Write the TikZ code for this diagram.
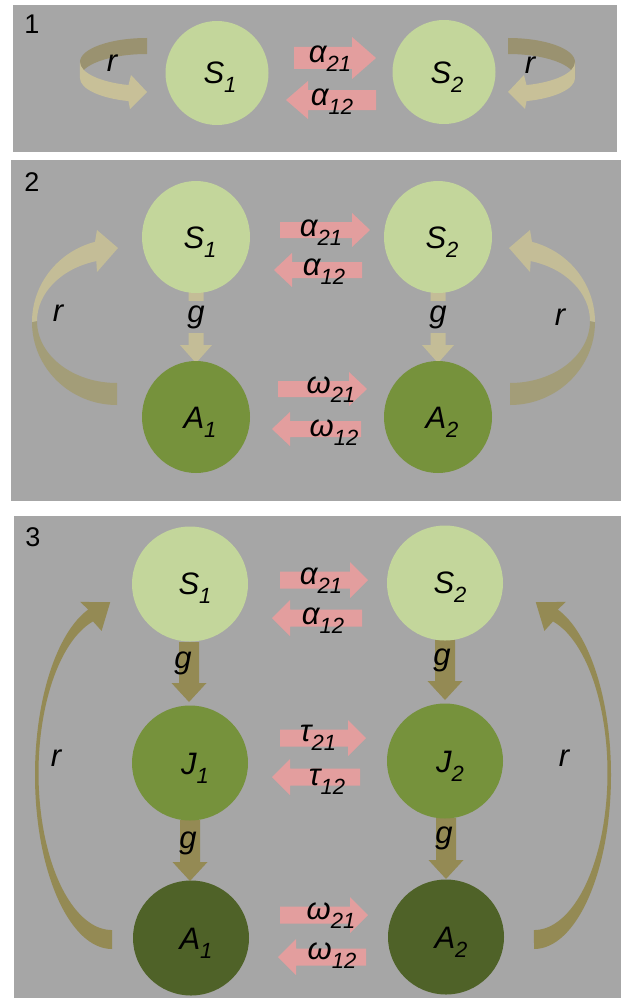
\documentclass[tikz,border=0pt]{standalone}
\usepackage{fontspec}
\setmainfont{Liberation Sans}
\usetikzlibrary{shapes.geometric}
\definecolor{bggray}{HTML}{A6A6A6}
\definecolor{sgreen}{HTML}{C3D69B}
\definecolor{jgreen}{HTML}{76923C}
\definecolor{agreen}{HTML}{4F6228}
\definecolor{pinkfill}{HTML}{E39E9E}
\definecolor{tanlight}{HTML}{C4BD97}
\definecolor{tandark}{HTML}{A39D78}
\definecolor{loopdark}{HTML}{9A9270}
\definecolor{looplight}{HTML}{C8C098}
\definecolor{olive}{HTML}{948A54}
\newcommand\mysub[1]{\raisebox{-9pt}{\fontsize{22}{22}\selectfont #1}}
\newcommand\barrow[6]{%
  \pgfmathsetmacro\bb{#2>#1 ? #2-#6 : #2+#6}%
  \fill[pinkfill] (#1,#3-#4) -- (\bb,#3-#4) -- (\bb,#3-#5) -- (#2,#3) -- (\bb,#3+#5) -- (\bb,#3+#4) -- (#1,#3+#4) -- cycle;}
\newcommand\garrow[7]{%
  \pgfmathsetmacro\gb{#3-#6}%
  \fill[#7] (#1-#4,#2) -- (#1-#4,\gb) -- (#1-#5,\gb) -- (#1,#3) -- (#1+#5,\gb) -- (#1+#4,\gb) -- (#1+#4,#2) -- cycle;}
\tikzset{
  panel/.style={fill=bggray, draw=none},
  sc/.style={ellipse, inner sep=0pt, draw=none},
  txt/.style={inner sep=0pt, font=\fontsize{31}{33}\selectfont\itshape},
  num/.style={inner sep=0pt, font=\fontsize{27}{30}\selectfont},
  glab/.style={inner sep=0pt, font=\fontsize{31}{33}\selectfont\itshape}
}
\begin{document}
\begin{tikzpicture}[x=1pt,y=-1pt]
\useasboundingbox (0,0) rectangle (627,998);
\fill[white] (0,0) rectangle (627,998);
% panels
\fill[panel] (13,5) rectangle (617,152);
\fill[panel] (11,160) rectangle (621,501);
\fill[panel] (14,516) rectangle (621,998);
\node[num] (n1) at (32,24) {1};
\node[num] (n2) at (32,182) {2};
\node[num] (n3) at (33,537) {3};

% ===== Panel 1 =====
\foreach \sx/\ss in {0/1, 655/-1}{
\begin{scope}[xshift=\sx pt, xscale=\ss]
  \fill[loopdark] (147,38) arc[start angle=270,end angle=180,x radius=67,y radius=24]
     -- (80,78) arc[start angle=180,end angle=270,x radius=67,y radius=24] -- cycle;
  \fill[looplight] (80,62) arc[start angle=180,end angle=106,x radius=67,y radius=24]
     -- (131,75) -- (147,92) -- (130,109) -- (128.5,101.1)
     arc[start angle=106,end angle=180,x radius=67,y radius=24] -- cycle;
\end{scope}}
\node[sc, fill=sgreen, minimum width=103, minimum height=104] (p1s1) at (217,73) {};
\node[sc, fill=sgreen, minimum width=103, minimum height=104] (p1s2) at (444,72) {};
\node[txt] (p1s1t) at (220,77) {S\mysub{1}};
\node[txt] (p1s2t) at (447,77) {S\mysub{2}};
\barrow{294}{376}{58}{11}{21}{24}
\barrow{376}{286}{100}{10}{19}{22}
\node[txt] (p1a21) at (330,59) {α\mysub{21}};
\node[txt] (p1a12) at (332,102) {α\mysub{12}};
\node[txt] (p1r1) at (112,63) {r};
\node[txt] (p1r2) at (530,65) {r};

% ===== Panel 2 =====
\foreach \sx/\ss in {0/1, 627/-1}{
\begin{scope}[xshift=\sx pt, xscale=\ss]
  \fill[tandark] (117,405) arc[start angle=90,end angle=180,x radius=85,y radius=83]
     -- (37,321) arc[start angle=180,end angle=90,x radius=80,y radius=62] -- cycle;
  \fill[tanlight] (32,322) arc[start angle=180,end angle=255,x radius=85,y radius=83]
     -- (97,230) -- (118,248) -- (97,272) -- (96.3,261.1)
     arc[start angle=255,end angle=180,x radius=80,y radius=62] -- cycle;
\end{scope}}
\garrow{196}{290}{363}{7.5}{16}{18}{tanlight}
\garrow{438}{290}{363}{7.5}{16}{18}{tanlight}
\node[sc, fill=sgreen, minimum width=108, minimum height=112] (p2s1) at (196,237) {};
\node[sc, fill=sgreen, minimum width=108, minimum height=112] (p2s2) at (438,237) {};
\node[sc, fill=jgreen, minimum width=108, minimum height=112] (p2a1) at (196,417) {};
\node[sc, fill=jgreen, minimum width=108, minimum height=112] (p2a2) at (438,417) {};
\node[txt] (p2s1t) at (200,242) {S\mysub{1}};
\node[txt] (p2s2t) at (442,242) {S\mysub{2}};
\node[txt] (p2a1t) at (200,422) {A\mysub{1}};
\node[txt] (p2a2t) at (442,422) {A\mysub{2}};
\node[glab, fill=bggray, minimum height=32, inner xsep=3pt] (p2g1) at (196,317) {g};
\node[glab, fill=bggray, minimum height=32, inner xsep=3pt] (p2g2) at (438,317) {g};
\barrow{280}{370}{230}{8}{17}{18}
\barrow{362}{274}{270}{8}{17}{18}
\barrow{278}{367}{389}{8}{17}{18}
\barrow{361}{272}{429}{8}{17}{18}
\node[txt] (p2a21) at (321,233) {α\mysub{21}};
\node[txt] (p2a12) at (324,272) {α\mysub{12}};
\node[txt] (p2w21) at (331,390) {ω\mysub{21}};
\node[txt] (p2w12) at (334,433) {ω\mysub{12}};
\node[txt] (p2r1) at (58,313) {r};
\node[txt] (p2r2) at (560,317) {r};

% ===== Panel 3 =====
\foreach \sx/\ss in {0/1, 646/-1}{
\begin{scope}[xshift=\sx pt, xscale=\ss]
  \fill[olive] (112,949) arc[start angle=90,end angle=252,x radius=77,y radius=174]
     -- (80.2,601.9) -- (110.2,602.2) -- (101.6,630.9) -- (93.0,621.4)
     arc[start angle=255,end angle=90,x radius=73.5,y radius=157] -- cycle;
\end{scope}}
\garrow{189}{642}{702}{10}{17.5}{19}{olive}
\garrow{445}{640}{700}{10}{17.5}{19}{olive}
\garrow{190}{820}{881}{10}{17.5}{19}{olive}
\garrow{446}{818}{879}{10}{17.5}{19}{olive}
\node[sc, fill=sgreen, minimum width=116, minimum height=115] (p3s1) at (190,584) {};
\node[sc, fill=sgreen, minimum width=116, minimum height=115] (p3s2) at (445,583) {};
\node[sc, fill=jgreen, minimum width=116, minimum height=115] (p3j1) at (190,763) {};
\node[sc, fill=jgreen, minimum width=116, minimum height=115] (p3j2) at (445,761) {};
\node[sc, fill=agreen, minimum width=116, minimum height=115] (p3a1) at (191,938) {};
\node[sc, fill=agreen, minimum width=116, minimum height=115] (p3a2) at (446,937) {};
\node[txt] (p3s1t) at (195,588) {S\mysub{1}};
\node[txt] (p3s2t) at (450,587) {S\mysub{2}};
\node[txt] (p3j1t) at (195,768) {J\mysub{1}};
\node[txt] (p3j2t) at (450,766) {J\mysub{2}};
\node[txt] (p3a1t) at (196,943) {A\mysub{1}};
\node[txt] (p3a2t) at (451,942) {A\mysub{2}};
\node[glab] (p3g1) at (183,663) {g};
\node[glab] (p3g2) at (442,660) {g};
\node[glab] (p3g3) at (188,843) {g};
\node[glab] (p3g4) at (444,838) {g};
\barrow{280}{368}{580}{8.5}{18}{18}
\barrow{362}{272}{618}{8.5}{18}{18}
\barrow{280}{366}{738}{8.5}{18}{18}
\barrow{360}{272}{777}{8.5}{18}{18}
\barrow{280}{368}{915}{8.5}{18}{18}
\barrow{366}{278}{957}{8.5}{18}{18}
\node[txt] (p3a21) at (321,581) {α\mysub{21}};
\node[txt] (p3a12) at (323,621) {α\mysub{12}};
\node[txt] (p3t21) at (318,738) {τ\mysub{21}};
\node[txt] (p3t12) at (327,782) {τ\mysub{12}};
\node[txt] (p3w21) at (331,916) {ω\mysub{21}};
\node[txt] (p3w12) at (332,956) {ω\mysub{12}};
\node[txt] (p3r1) at (56,758) {r};
\node[txt] (p3r2) at (564,758) {r};
\end{tikzpicture}
\end{document}
